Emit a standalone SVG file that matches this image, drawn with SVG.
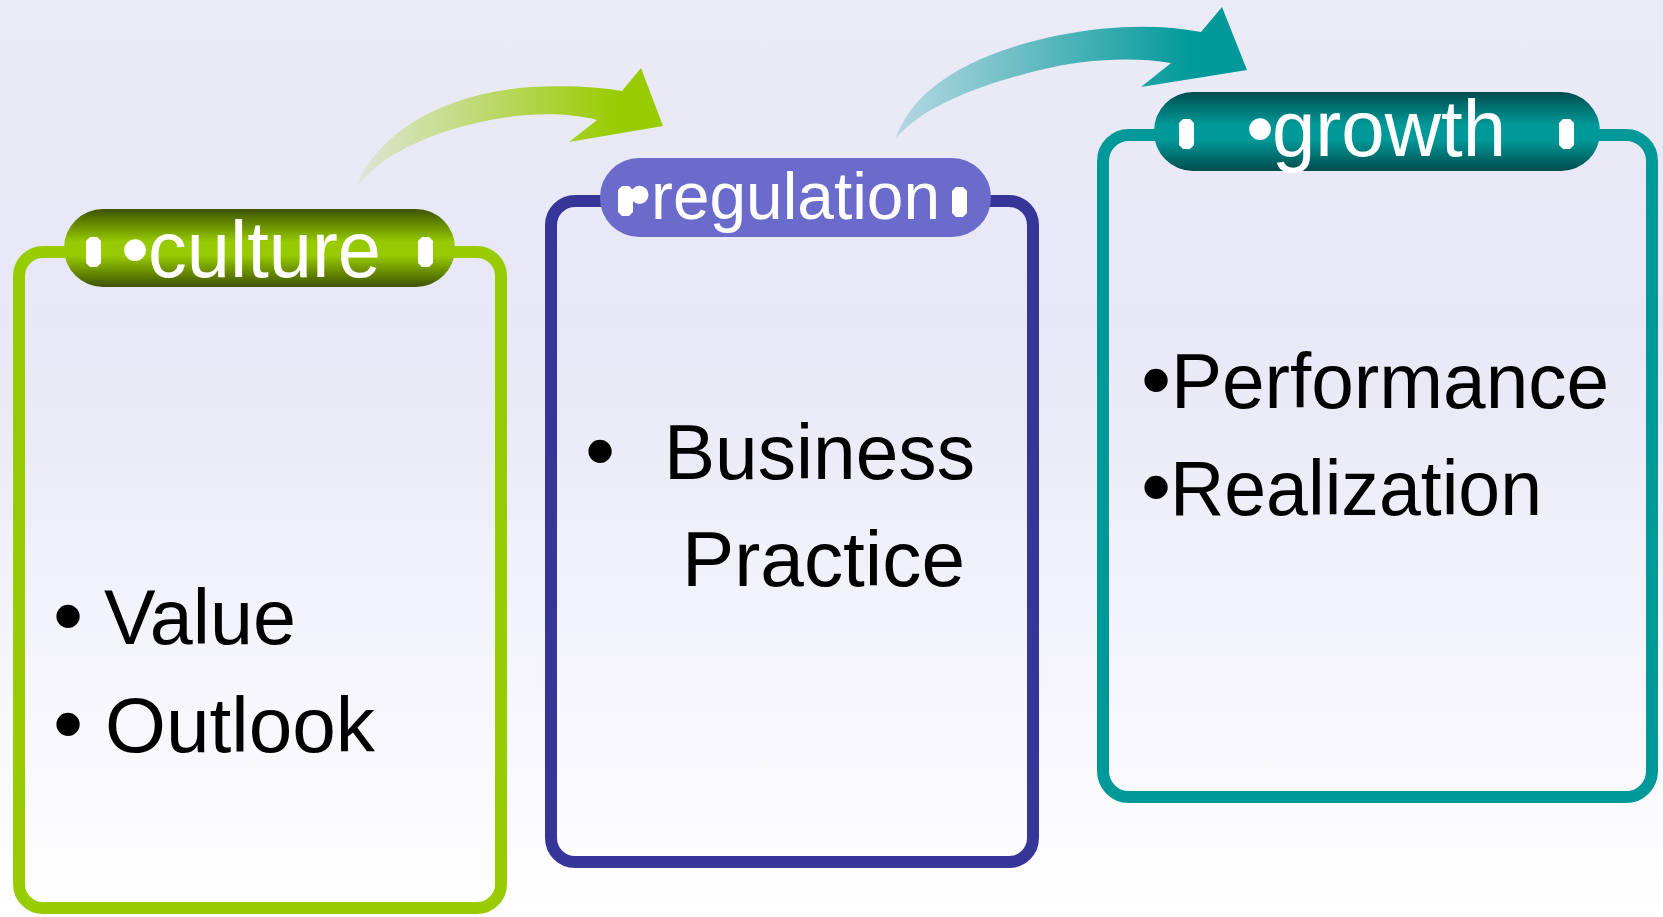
<svg xmlns="http://www.w3.org/2000/svg" width="1663" height="917" viewBox="0 0 1663 917">
<defs>
<linearGradient id="bg" x1="0" y1="0" x2="0" y2="1">
<stop offset="0" stop-color="#ebebf7"/>
<stop offset="0.35" stop-color="#e7e7f6"/>
<stop offset="1" stop-color="#ffffff"/>
</linearGradient>
<linearGradient id="gGreen" x1="0" y1="0" x2="0" y2="1">
<stop offset="0" stop-color="#3d5300"/>
<stop offset="0.42" stop-color="#97ca00"/>
<stop offset="0.6" stop-color="#97ca00"/>
<stop offset="1" stop-color="#3d5300"/>
</linearGradient>
<linearGradient id="gTeal" x1="0" y1="0" x2="0" y2="1">
<stop offset="0" stop-color="#004c4c"/>
<stop offset="0.42" stop-color="#009999"/>
<stop offset="0.6" stop-color="#009999"/>
<stop offset="1" stop-color="#004c4c"/>
</linearGradient>
<linearGradient id="aGreen" gradientUnits="userSpaceOnUse" x1="356" y1="0" x2="663" y2="0">
<stop offset="0" stop-color="#99cc00" stop-opacity="0.12"/>
<stop offset="0.85" stop-color="#99cc00" stop-opacity="1"/>
</linearGradient>
<linearGradient id="aTeal" gradientUnits="userSpaceOnUse" x1="896" y1="0" x2="1247" y2="0">
<stop offset="0" stop-color="#009999" stop-opacity="0.22"/>
<stop offset="0.85" stop-color="#009999" stop-opacity="1"/>
</linearGradient>
<polygon id="tofu" points="4,0 11,0 15,4 15,26 11,30 4,30 0,26 0,4" fill="#ffffff"/>
</defs>
<style>
.frame{fill:none;stroke-width:12}
.tab{font-family:"Liberation Sans",Arial,sans-serif;fill:#ffffff}
.body{font-family:"Liberation Sans",Arial,sans-serif;font-size:77px;fill:#000000}
.blt{font-size:86px}
</style>
<rect x="0" y="0" width="1663" height="917" fill="url(#bg)"/>

<g id="connectors">
<path id="arrow-culture-regulation" fill="url(#aGreen)" d="M 356 187 C 375 140 430 95 530 87 C 565 85 600 87 622 91 L 641 68 L 663 126 L 569 142 L 597 120 C 570 113 530 112 490 120 C 440 130 385 150 356 187 Z"/>
<path id="arrow-regulation-growth" fill="url(#aTeal)" d="M 896 138 C 910 95 960 55 1060 35 C 1110 25 1160 24 1201 32 L 1222 7 L 1247 70 L 1141 87 L 1171 63 C 1130 56 1080 60 1040 70 C 980 85 925 105 896 138 Z"/>
</g>

<g id="node-culture">
<rect class="frame" x="19" y="252" width="482" height="656" rx="24" stroke="#99cc00"/>
<rect x="64" y="209" width="391" height="78" rx="39" fill="url(#gGreen)"/>
<use href="#tofu" x="86" y="237"/>
<use href="#tofu" x="418" y="237"/>
<text class="tab" font-size="80" y="277"><tspan x="121">•</tspan><tspan x="148" textLength="233" lengthAdjust="spacingAndGlyphs">culture</tspan></text>
<text class="body" y="644"><tspan x="53" class="blt" dy="1">•</tspan> <tspan x="104" dy="-1" textLength="192" lengthAdjust="spacingAndGlyphs">Value</tspan></text>
<text class="body" y="752"><tspan x="53" class="blt" dy="1">•</tspan> <tspan x="105" dy="-1" textLength="270" lengthAdjust="spacingAndGlyphs">Outlook</tspan></text>
</g>

<g id="node-regulation">
<rect class="frame" x="551" y="201" width="482" height="661" rx="24" stroke="#363699"/>
<rect x="600" y="158" width="391" height="79" rx="39" fill="#6b6bcc"/>
<use href="#tofu" x="618" y="186"/>
<use href="#tofu" x="952" y="187"/>
<text class="tab" font-size="66" y="219"><tspan x="628" dy="-2">•</tspan><tspan x="651" dy="2" textLength="289" lengthAdjust="spacingAndGlyphs">regulation</tspan></text>
<text class="body" y="479"><tspan x="585" class="blt" dy="1">•</tspan> <tspan x="664" dy="-1" textLength="311" lengthAdjust="spacingAndGlyphs">Business</tspan></text>
<text class="body" y="586"><tspan x="682" textLength="283" lengthAdjust="spacingAndGlyphs">Practice</tspan></text>
</g>

<g id="node-growth">
<rect class="frame" x="1103" y="135" width="549" height="662" rx="26" stroke="#009999"/>
<rect x="1154" y="92" width="446" height="79" rx="39" fill="url(#gTeal)"/>
<use href="#tofu" x="1179" y="119"/>
<use href="#tofu" x="1559" y="119"/>
<text class="tab" font-size="80" y="156"><tspan x="1246">•</tspan><tspan x="1272" textLength="234" lengthAdjust="spacingAndGlyphs">growth</tspan></text>
<text class="body" y="408"><tspan x="1141" class="blt" dy="1">•</tspan><tspan x="1171" dy="-1" textLength="438" lengthAdjust="spacingAndGlyphs">Performance</tspan></text>
<text class="body" y="515"><tspan x="1141" class="blt" dy="1">•</tspan><tspan x="1170" dy="-1" textLength="372" lengthAdjust="spacingAndGlyphs">Realization</tspan></text>
</g>
</svg>
